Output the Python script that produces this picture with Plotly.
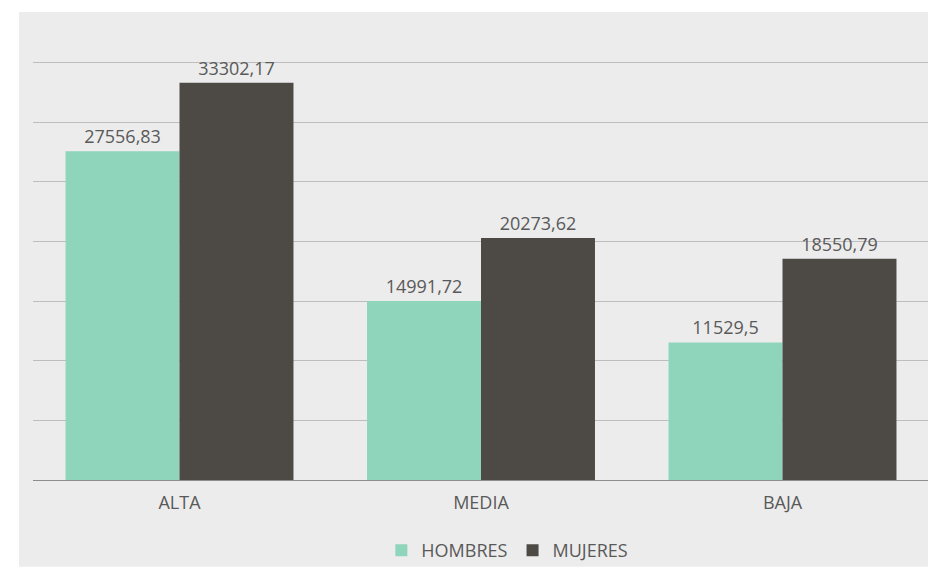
import plotly.graph_objects as go

# Income by level, split by sex
categories = ["ALTA", "MEDIA", "BAJA"]
hombres = [27556.83, 14991.72, 11529.5]
mujeres = [33302.17, 20273.62, 18550.79]

def fmt(v):
    return str(v).replace(".", ",")

W, H = 928, 569
L, R, T, B = 33, 0, 60, 88
plot_w = W - L - R
plot_h = H - T - B

# category centre spacing in pixels and left offset of the first centre
step = 301.5
first_center = 179.5
x0 = -(first_center - L) / step
x1 = x0 + plot_w / step

FONT = "'Open Sans', Lato, sans-serif"
text_font = dict(family=FONT, size=18, color="#595959")

fig = go.Figure()
fig.add_trace(go.Bar(
    name="HOMBRES", x=categories, y=hombres,
    marker=dict(color="#8fd5bb", line=dict(width=0)),
    text=[fmt(v) for v in hombres], textposition="outside",
    textfont=text_font, cliponaxis=False,
))
fig.add_trace(go.Bar(
    name="MUJERES", x=categories, y=mujeres,
    marker=dict(color="#4d4a45", line=dict(width=0)),
    text=[fmt(v) for v in mujeres], textposition="outside",
    textfont=text_font, cliponaxis=False,
))

# grey chart-area background, inset from the top-left corner
bg_left, bg_top, bg_bottom = 19, 12, 568
fig.add_shape(
    type="rect", xref="paper", yref="paper", layer="below",
    x0=(bg_left - L) / plot_w, x1=1.0 + R / plot_w + 0.01,
    y0=-(bg_bottom - (T + plot_h)) / plot_h,
    y1=1.0 + (T - bg_top) / plot_h,
    fillcolor="#ececec", line=dict(width=0),
)

fig.update_layout(
    width=W, height=H,
    margin=dict(l=L, r=R, t=T, b=B, pad=0),
    paper_bgcolor="#ffffff",
    plot_bgcolor="rgba(0,0,0,0)",
    barmode="group", bargap=0.244, bargroupgap=0,
    font=text_font,
    showlegend=True,
    legend=dict(
        orientation="h", x=0.53, xanchor="center", y=-0.168, yanchor="middle",
        font=dict(family=FONT, size=18, color="#595959"),
        bgcolor="rgba(0,0,0,0)", itemwidth=30, traceorder="normal",
    ),
    xaxis=dict(
        range=[x0, x1], showgrid=False, zeroline=False,
        showline=True, linecolor="#8c8c8c", linewidth=1,
        ticks="", tickfont=text_font, ticklabelstandoff=6,
    ),
    yaxis=dict(
        range=[0, 35200], tickvals=[5000 * i for i in range(1, 8)],
        showgrid=True, gridcolor="#bdbdbd",
        gridwidth=1, zeroline=False, showticklabels=False, ticks="",
    ),
)

fig.write_html("out.html")
